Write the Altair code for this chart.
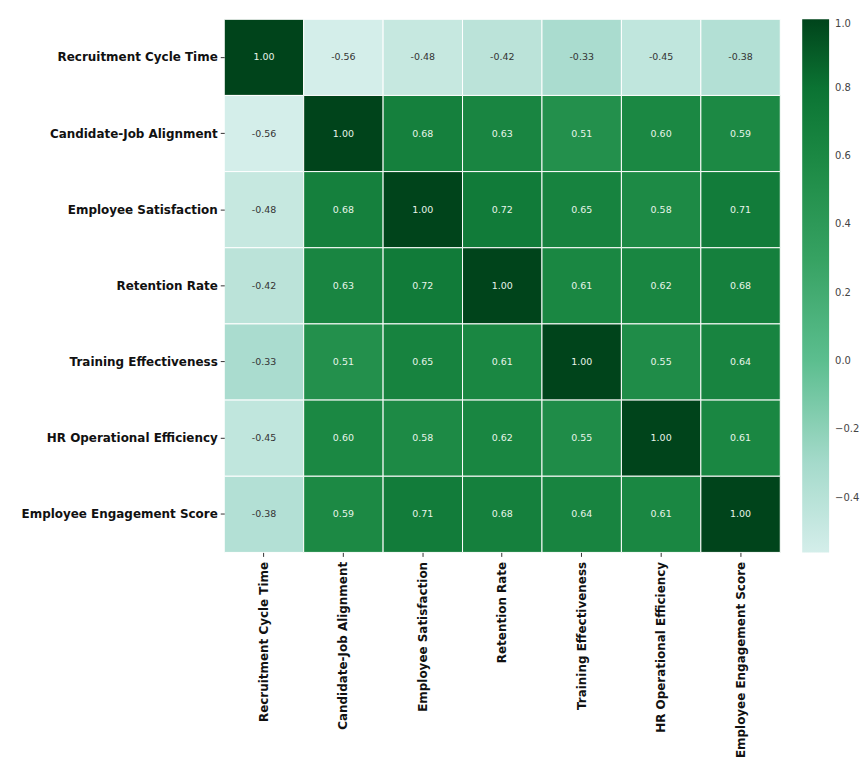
import altair as alt
import pandas as pd

labels = [
    "Recruitment Cycle Time",
    "Candidate-Job Alignment",
    "Employee Satisfaction",
    "Retention Rate",
    "Training Effectiveness",
    "HR Operational Efficiency",
    "Employee Engagement Score",
]

row_recruitment = [1.00, -0.56, -0.48, -0.42, -0.33, -0.45, -0.38]
row_alignment = [-0.56, 1.00, 0.68, 0.63, 0.51, 0.60, 0.59]
row_satisfaction = [-0.48, 0.68, 1.00, 0.72, 0.65, 0.58, 0.71]
row_retention = [-0.42, 0.63, 0.72, 1.00, 0.61, 0.62, 0.68]
row_training = [-0.33, 0.51, 0.65, 0.61, 1.00, 0.55, 0.64]
row_hr = [-0.45, 0.60, 0.58, 0.62, 0.55, 1.00, 0.61]
row_engagement = [-0.38, 0.59, 0.71, 0.68, 0.64, 0.61, 1.00]

rows = [row_recruitment, row_alignment, row_satisfaction, row_retention,
        row_training, row_hr, row_engagement]

records = []
for i, r in enumerate(rows):
    for j, v in enumerate(r):
        records.append({"row": labels[i], "col": labels[j], "value": v,
                        "label": f"{v:.2f}"})
df = pd.DataFrame(records)

color_domain = [-0.56, -0.3, 0.0, 0.3, 0.6, 0.8, 1.0]
color_range = ["#d4eeea", "#a5dacb", "#5cbe8f", "#36a262", "#1b8843", "#0b7333", "#00441b"]

base = alt.Chart(df).encode(
    x=alt.X("col:N", sort=labels, title=None,
            axis=alt.Axis(labelAngle=270, labelAlign="right", labelBaseline="middle",
                          labelFont="DejaVu Sans", labelFontWeight="bold",
                          labelFontSize=12, labelColor="#111", tickSize=4,
                          tickColor="#333", domain=False, labelPadding=5,
                          labelLimit=300)),
    y=alt.Y("row:N", sort=labels, title=None,
            axis=alt.Axis(labelFont="DejaVu Sans", labelFontWeight="bold",
                          labelFontSize=12, labelColor="#111", tickSize=4,
                          tickColor="#333", domain=False, labelPadding=3,
                          labelLimit=300)),
)

rect = base.mark_rect(stroke="white", strokeWidth=1).encode(
    color=alt.Color("value:Q",
                    scale=alt.Scale(domain=color_domain, range=color_range,
                                    interpolate="rgb"),
                    legend=alt.Legend(title=None, gradientLength=535,
                                      gradientThickness=27, offset=22,
                                      values=[-0.4, -0.2, 0.0, 0.2, 0.4, 0.6, 0.8, 1.0],
                                      format=".1f", labelFontSize=10,
                                      labelColor="#444", labelFont="DejaVu Sans",
                                      labelOffset=6))
)

text = base.mark_text(font="DejaVu Sans", fontSize=9.5).encode(
    text="label:N",
    color=alt.condition("datum.value < 0", alt.value("#333333"), alt.value("#e8f5ea")),
)

chart = (rect + text).properties(
    width=558, height=535,
    padding={"left": 12, "top": 9, "right": 0, "bottom": 0},
).configure_view(stroke=None).configure_scale(bandPaddingInner=0)

chart.save("out.html", embed_options={"renderer": "svg", "actions": False})
